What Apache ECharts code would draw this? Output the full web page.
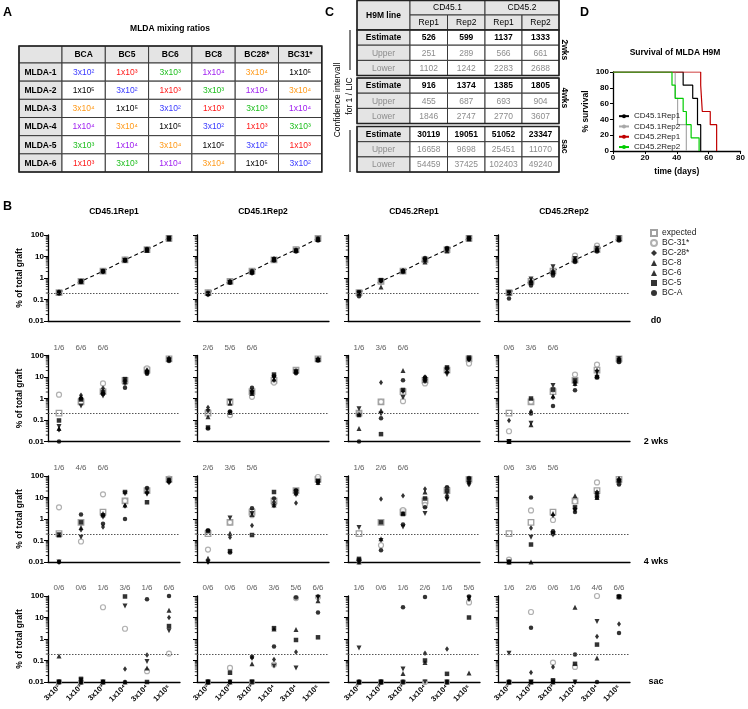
<!DOCTYPE html>
<html><head><meta charset="utf-8">
<script src="https://cdn.jsdelivr.net/npm/echarts@6/dist/echarts.min.js"></script>
<style>html,body{margin:0;padding:0;background:#fff}#c{width:748px;height:709px}</style>
</head><body><div id="c"></div>
<script>
const FONT = '"Liberation Sans", Arial, Helvetica, sans-serif';

// ---------- Panel A: mixing ratios ----------
const mixBarcodes = ['BCA','BC5','BC6','BC8','BC28*','BC31*'];
const mixMice = ['MLDA-1','MLDA-2','MLDA-3','MLDA-4','MLDA-5','MLDA-6'];
const doseLabels = ['3x10²','1x10³','3x10³','1x10⁴','3x10⁴','1x10⁵'];
const doseColors = ['#3a3aff','#ff1a1a','#1fbf1f','#a020f0','#ff9a1a','#000000'];
const mixDoseIndex = [
  [0,1,2,3,4,5],
  [5,0,1,2,3,4],
  [4,5,0,1,2,3],
  [3,4,5,0,1,2],
  [2,3,4,5,0,1],
  [1,2,3,4,5,0]];

// ---------- Panel C: LIC estimates ----------
const cLines = ['CD45.1','CD45.2'];
const cReps = ['Rep1','Rep2','Rep1','Rep2'];
const cGroups = ['2wks','4wks','sac'];
const cEstimate = [[526,599,1137,1333],[916,1374,1385,1805],[30119,19051,51052,23347]];
const cUpper = [[251,289,566,661],[455,687,693,904],[16658,9698,25451,11070]];
const cLower = [[1102,1242,2283,2688],[1846,2747,2770,3607],[54459,37425,102403,49240]];

// ---------- Panel D: survival ----------
const survNames = ['CD45.1Rep1','CD45.1Rep2','CD45.2Rep1','CD45.2Rep2'];
const survColors = ['#000000','#a8a8a8','#c00000','#00cc00'];
const surv451r1Days = [0,44,50,53,55];
const surv451r1Pct  = [100,83.3,66.7,33.3,0];
const surv451r2Days = [0,39,40.5,46];
const surv451r2Pct  = [100,66.7,33.3,0];
const surv452r1Days = [0,55,56,61,65];
const surv452r1Pct  = [100,83.3,50,33.3,0];
const surv452r2Days = [0,37,39,44,46,49,54];
const surv452r2Pct  = [100,83.3,66.7,50,33.3,16.7,0];

// ---------- Panel B: % of total graft ----------
const bColumns = ['CD45.1Rep1','CD45.1Rep2','CD45.2Rep1','CD45.2Rep2'];
const bRows = ['d0','2 wks','4 wks','sac'];
const detectionThreshold = 0.2;
const expectedPct = [0.208,0.693,2.08,6.93,20.8,69.3];
// each panel: rows = BC-A, BC-5, BC-6, BC-8, BC-28*, BC-31*; columns = doses
const d0_451r1 = [
  [0.19,0.70,2.0,6.5,20,68],
  [0.21,0.68,2.1,6.8,21,70],
  [0.23,0.72,2.2,7.0,19,66],
  [0.20,0.66,1.9,6.6,20,72],
  [0.22,0.71,2.05,6.9,22,69],
  [0.21,0.69,2.1,7.1,21,70]];
const d0_451r2 = [
  [0.17,0.60,1.7,6.5,17,55],
  [0.20,0.65,2.0,7.0,19,60],
  [0.19,0.68,1.9,7.5,20,62],
  [0.16,0.62,1.6,7.2,18,65],
  [0.20,0.70,2.1,7.8,20,68],
  [0.21,0.70,2.1,7.0,21,70]];
const d0_452r1 = [
  [0.14,0.75,2.2,8.5,25,70],
  [0.22,0.80,2.0,7.0,22,68],
  [0.20,0.38,2.3,5.5,18,66],
  [0.19,0.70,1.9,6.5,20,72],
  [0.21,0.72,2.1,7.2,21,70],
  [0.20,0.69,2.1,7.0,21,69]];
const d0_452r2 = [
  [0.11,0.45,1.3,5.5,17,55],
  [0.21,0.60,1.7,6.5,20,62],
  [0.20,0.75,2.0,7.5,22,68],
  [0.20,0.90,3.3,8.0,24,72],
  [0.21,0.70,2.2,7.0,20,70],
  [0.21,0.65,2.2,11,32,70]];
const wk2_451r1 = [
  [0.01,1.0,1.6,3.2,14,55],
  [0.095,0.9,2.0,8,17,65],
  [0.04,1.2,2.2,6,22,70],
  [0.05,0.45,1.3,5,15,60],
  [0.035,1.4,3.0,7,20,75],
  [1.5,0.65,5.0,5.5,25,68]];
const wk2_451r2 = [
  [0.04,0.25,3.2,11,15,60],
  [0.045,0.22,2.0,13,18,62],
  [0.14,0.6,1.7,8,20,65],
  [0.25,0.75,1.8,9,17,58],
  [0.38,0.23,2.2,7,16,70],
  [0.2,0.17,1.2,5.5,19,66]];
const wk2_452r1 = [
  [0.01,0.12,7,9.5,25,70],
  [0.17,0.022,2.5,8,28,80],
  [0.04,0.28,20,7,20,75],
  [0.33,0.19,1.1,6,13,62],
  [0.18,5.5,2.2,10,17,65],
  [0.2,0.7,0.75,5,22,42]];
const wk2_452r2 = [
  [0.01,0.2,0.45,2.4,9.5,50],
  [0.01,1.0,2.6,7,10,60],
  [0.01,0.06,1.3,5,12,75],
  [0.01,0.07,4,4.5,16,70],
  [0.095,0.25,1.1,6,20,65],
  [0.03,0.72,2.6,13,38,55]];
const wk4_451r1 = [
  [0.01,1.6,0.6,1.0,28,55],
  [0.19,0.7,1.5,18,6,60],
  [0.18,0.4,1.8,4.5,22,70],
  [0.01,0.14,1.2,15,14,65],
  [0.01,0.32,0.42,4,16,50],
  [3.5,0.09,14,7,20,75]];
const wk4_451r2 = [
  [0.3,0.028,3.2,9,22,55],
  [0.27,0.032,0.18,18,20,60],
  [0.015,0.22,1.6,4.5,16,50],
  [0.01,1.1,1.8,4,13,52],
  [0.01,0.14,0.5,6,5.5,48],
  [0.038,0.7,1.5,5,18,90]];
const wk4_452r1 = [
  [0.012,0.035,0.55,3.5,30,80],
  [0.014,0.7,1.7,9,20,70],
  [0.01,0.12,1.9,18,14,55],
  [0.4,0.1,0.42,1.8,8,45],
  [0.01,8.5,12,25,10,40],
  [0.012,0.06,2.6,4.5,25,65]];
const wk4_452r2 = [
  [0.01,10,0.27,2.1,10,40],
  [0.01,0.065,0.22,3.5,13,60],
  [0.01,0.01,1.8,12,10,70],
  [0.01,0.14,0.18,2.5,15,55],
  [0.01,0.38,1.5,3,18,75],
  [0.013,2.5,0.9,6.5,50,50]];
const sac_451r1 = [
  [0.01,0.01,0.01,0.01,70,100],
  [0.01,0.014,0.01,95,0.01,4],
  [0.16,0.01,0.01,0.01,0.045,22],
  [0.01,0.012,0.01,34,0.09,2.4],
  [0.01,0.01,0.01,0.04,0.18,10],
  [0.01,0.01,30,3,0.032,0.21]];
const sac_451r2 = [
  [0.01,0.01,0.15,0.45,85,17],
  [0.01,0.027,0.01,3.2,0.9,1.2],
  [0.01,0.01,0.07,2.9,2.8,60],
  [0.01,0.01,0.01,0.055,0.045,85],
  [0.01,0.01,0.13,0.11,0.25,95],
  [0.01,0.045,0.01,0.065,80,90]];
const sac_452r1 = [
  [0.01,0.01,30,90,0.01,95],
  [0.01,0.01,0.01,0.1,0.024,10],
  [0.01,0.01,0.025,0.08,0.01,0.026],
  [0.38,0.01,0.04,0.01,0.01,80],
  [0.01,0.01,0.01,0.22,0.34,70],
  [0.01,0.01,0.01,0.01,0.01,50]];
const sac_452r2 = [
  [0.01,3.3,0.01,0.19,0.01,1.9],
  [0.01,0.01,0.012,0.07,0.55,95],
  [0.01,0.01,0.01,30,0.13,100],
  [0.22,0.01,0.01,0.01,6.5,85],
  [0.01,0.028,0.05,0.01,1.3,5],
  [0.01,18,0.08,0.05,100,90]];
// engraftment fractions shown above the doses
const frac2wk = [['1/6','6/6','6/6'],['2/6','5/6','6/6'],['1/6','3/6','6/6'],['0/6','3/6','6/6']];
const frac4wk = [['1/6','4/6','6/6'],['2/6','3/6','5/6'],['1/6','2/6','6/6'],['0/6','3/6','5/6']];
const fracSac = [['0/6','0/6','1/6','3/6','1/6','6/6'],['0/6','0/6','0/6','3/6','5/6','6/6'],
                 ['1/6','0/6','1/6','2/6','1/6','5/6'],['1/6','2/6','0/6','1/6','4/6','6/6']];
const minorTickVals = [0.02,0.03,0.04,0.05,0.06,0.07,0.08,0.09,0.2,0.3,0.4,0.5,0.6,0.7,0.8,0.9,
                       2,3,4,5,6,7,8,9,20,30,40,50,60,70,80,90];

// ---------- styles ----------
const bcNames = ['BC-A','BC-5','BC-6','BC-8','BC-28*','BC-31*'];
const bcStyle = {
  'BC-A':   {symbol:'circle', size:4.5, rot:0, fill:'#000', border:'#000', bw:0},
  'BC-5':   {symbol:'rect', size:4.5, rot:0, fill:'#000', border:'#000', bw:0},
  'BC-6':   {symbol:'triangle', size:5, rot:0, fill:'#000', border:'#000', bw:0},
  'BC-8':   {symbol:'triangle', size:5, rot:180, fill:'#000', border:'#000', bw:0},
  'BC-28*': {symbol:'diamond', size:[4,5.5], rot:0, fill:'#000', border:'#000', bw:0},
  'BC-31*': {symbol:'circle', size:5, rot:0, fill:'#ffffff', border:'#9c9c9c', bw:1.2}
};
const drawOrder = ['BC-31*','BC-28*','BC-8','BC-6','BC-5','BC-A'];

const panels = [
  [d0_451r1,d0_451r2,d0_452r1,d0_452r2],
  [wk2_451r1,wk2_451r2,wk2_452r1,wk2_452r2],
  [wk4_451r1,wk4_451r2,wk4_452r1,wk4_452r2],
  [sac_451r1,sac_451r2,sac_452r1,sac_452r2]];
const fracs = [null, frac2wk, frac4wk, fracSac];

const colLeft = [48,197,348,498], rowTop = [235,355.5,476,596], gW = 132, gH = 86;
const grids = [], xAxes = [], yAxes = [], series = [];

function yFmt(v){ return v >= 1 ? String(Math.round(v)) : String(+Number(v).toPrecision(1)); }

for (let r = 0; r < 4; r++) {
  for (let c = 0; c < 4; c++) {
    const idx = grids.length;
    grids.push({left: colLeft[c], top: rowTop[r], width: gW, height: gH});
    xAxes.push({gridIndex: idx, type:'category', data: doseLabels, boundaryGap: true,
      axisLine:{lineStyle:{color:'#000', width:1.3}},
      axisTick:{alignWithLabel:true, length:3, lineStyle:{color:'#000', width:1}},
      axisLabel:{show: r === 3, interval:0, rotate:45, fontSize:7.5, fontWeight:'bold', color:'#000', margin:4, fontFamily:FONT},
      splitLine:{show:false}});
    yAxes.push({gridIndex: idx, type:'log', logBase:10, min:0.01, max:100,
      axisLine:{show:true, lineStyle:{color:'#000', width:1.3}},
      axisTick:{show:true, length:4, lineStyle:{color:'#000', width:1}},
      axisLabel:{show: c === 0, fontSize:8, fontWeight:'bold', color:'#000', margin:4, formatter:yFmt, fontFamily:FONT},
      splitLine:{show:false},
      name: c === 0 ? '% of total graft' : '', nameLocation:'middle', nameGap:24, nameRotate:90,
      nameTextStyle:{fontSize:8.5, fontWeight:'bold', color:'#000', fontFamily:FONT}});
    // log minor ticks
    series.push({type:'custom', xAxisIndex:idx, yAxisIndex:idx, silent:true, z:1,
      data: minorTickVals.map(v => [0, v]),
      renderItem: function(params, api){
        const p = api.coord([0, api.value(1)]);
        const x0 = params.coordSys.x;
        return {type:'line', shape:{x1:x0, y1:p[1], x2:x0-2.2, y2:p[1]}, style:{stroke:'#000', lineWidth:0.8}};
      }});
    if (r === 0) {
      series.push({type:'line', name:'expectedLine', xAxisIndex:idx, yAxisIndex:idx, data: expectedPct,
        symbol:'none', silent:true, z:2, lineStyle:{type:[4,3], color:'#000', width:1.1}});
    }
    if (r < 3) {
      series.push({type:'scatter', name:'expected', xAxisIndex:idx, yAxisIndex:idx, data: expectedPct,
        symbol:'rect', symbolSize:5.5, clip:false, z:3,
        itemStyle:{color:'#ffffff', borderColor:'#8a8a8a', borderWidth:1.3}});
    }
    const pdata = panels[r][c];
    drawOrder.forEach(function(nm){
      const st = bcStyle[nm];
      const s = {type:'scatter', name:nm, xAxisIndex:idx, yAxisIndex:idx,
        data: pdata[bcNames.indexOf(nm)], symbol: st.symbol, symbolSize: st.size, symbolRotate: st.rot,
        clip:false, z:4,
        itemStyle:{color: st.fill, borderColor: st.border, borderWidth: st.bw}};
      if (nm === 'BC-A') {
        s.markLine = {silent:true, symbol:'none', animation:false,
          label:{show:false}, lineStyle:{type:[1.5,1.5], color:'#555', width:1},
          data:[{yAxis: detectionThreshold}]};
      }
      series.push(s);
    });
    if (fracs[r]) {
      const f = fracs[r][c];
      series.push({type:'scatter', name:'frac', xAxisIndex:idx, yAxisIndex:idx, symbolSize:0, silent:true, clip:false,
        data: f.map((t, i) => ({value:[i, 100], name:t})),
        label:{show:true, position:'top', distance:4, formatter:'{b}', fontSize:8, color:'#333', fontFamily:FONT}});
    }
  }
}

// survival chart
const dIdx = grids.length;
grids.push({left:613, top:72, width:130, height:79});
xAxes.push({gridIndex:dIdx, type:'value', min:0, max:80, interval:20,
  axisLine:{lineStyle:{color:'#000', width:1.3}}, axisTick:{length:3, lineStyle:{color:'#000'}},
  axisLabel:{fontSize:8, fontWeight:'bold', color:'#000', margin:3, fontFamily:FONT}, splitLine:{show:false},
  name:'time (days)', nameLocation:'middle', nameGap:16,
  nameTextStyle:{fontSize:8.5, fontWeight:'bold', color:'#000', fontFamily:FONT}});
yAxes.push({gridIndex:dIdx, type:'value', min:0, max:100, interval:20,
  axisLine:{show:true, lineStyle:{color:'#000', width:1.3}}, axisTick:{show:true, length:3, lineStyle:{color:'#000'}},
  axisLabel:{fontSize:8, fontWeight:'bold', color:'#000', margin:4, fontFamily:FONT}, splitLine:{show:false},
  name:'% survival', nameLocation:'middle', nameGap:23, nameRotate:90,
  nameTextStyle:{fontSize:8.5, fontWeight:'bold', color:'#000', fontFamily:FONT}});
const survDays = [surv451r1Days, surv451r2Days, surv452r1Days, surv452r2Days];
const survPct = [surv451r1Pct, surv451r2Pct, surv452r1Pct, surv452r2Pct];
survNames.forEach(function(nm, i){
  series.push({type:'line', name:nm, xAxisIndex:dIdx, yAxisIndex:dIdx, step:'end', symbol:'none',
    data: survDays[i].map((d, k) => [d, survPct[i][k]]),
    lineStyle:{color: survColors[i], width:1.2}, itemStyle:{color: survColors[i]}, z:3});
});

// ---------- graphics: tables and labels ----------
const G = [];
function txt(x, y, s, o){ o = o || {};
  return {type:'text', x:x, y:y, rotation:o.rot||0, silent:true, z:100,
    style:{text:s, x:0, y:0, fill:o.color||'#000', font:(o.bold?'bold ':'')+(o.size||8.5)+'px '+FONT,
      textAlign:o.align||'center', textVerticalAlign:'middle', align:o.align||'center', verticalAlign:'middle'}}; }
function rect(x, y, w, h, fill, stroke, lw){
  return {type:'rect', silent:true, z:90, shape:{x:x, y:y, width:w, height:h},
    style:{fill:fill||'none', stroke:stroke||'none', lineWidth:lw||1}}; }
function seg(x1, y1, x2, y2, lw){
  return {type:'line', silent:true, z:95, shape:{x1:x1, y1:y1, x2:x2, y2:y2}, style:{stroke:'#000', lineWidth:lw||1}}; }

const HDR = '#e4e4e4', LINE = '#3a3a3a';
// panel letters & titles
G.push(txt(3, 13, 'A', {bold:true, size:12.5, align:'left'}));
G.push(txt(3, 207, 'B', {bold:true, size:12.5, align:'left'}));
G.push(txt(325, 13, 'C', {bold:true, size:12.5, align:'left'}));
G.push(txt(580, 13, 'D', {bold:true, size:12.5, align:'left'}));
G.push(txt(170, 29, 'MLDA mixing ratios', {bold:true, size:8.5}));
G.push(txt(675, 53, 'Survival of MLDA H9M', {bold:true, size:8.5}));

// table A
const aX = [19,62]; for (let i = 1; i <= 6; i++) aX.push(62 + 43.3*i);
const aY = [46,63]; for (let i = 1; i <= 6; i++) aY.push(63 + 18.17*i);
for (let r = 0; r < 7; r++) {
  for (let c = 0; c < 7; c++) {
    const x = aX[c], y = aY[r], w = aX[c+1]-aX[c], h = aY[r+1]-aY[r];
    const gray = (r === 0 || c === 0);
    G.push(rect(x, y, w, h, gray ? HDR : '#fff', LINE, 1));
    const cx = x + w/2, cy = y + h/2 + 0.5;
    if (r === 0 && c > 0) G.push(txt(cx, cy, mixBarcodes[c-1], {bold:true}));
    else if (c === 0 && r > 0) G.push(txt(cx, cy, mixMice[r-1], {bold:true}));
    else if (r > 0 && c > 0) { const d = mixDoseIndex[r-1][c-1];
      G.push(txt(cx, cy, doseLabels[d], {color: doseColors[d]})); }
  }
}
G.push(rect(aX[0], aY[0], aX[7]-aX[0], aY[7]-aY[0], 'none', '#222', 1.6));

// table C
const cX = [357,410,447.5,485,522,559];
G.push(rect(cX[0], 0.5, cX[1]-cX[0], 29.5, HDR, LINE, 1));
G.push(txt((cX[0]+cX[1])/2, 15.5, 'H9M line', {bold:true}));
for (let k = 0; k < 2; k++) {
  G.push(rect(cX[1+2*k], 0.5, cX[3+2*k]-cX[1+2*k], 14.5, HDR, LINE, 1));
  G.push(txt((cX[1+2*k]+cX[3+2*k])/2, 8, cLines[k]));
}
for (let j = 0; j < 4; j++) {
  G.push(rect(cX[j+1], 15, cX[j+2]-cX[j+1], 15, HDR, LINE, 1));
  G.push(txt((cX[j+1]+cX[j+2])/2, 23, cReps[j]));
}
G.push(rect(cX[0], 0.5, cX[5]-cX[0], 29.5, 'none', '#222', 1.5));
const gTop = [30,78,126.5], cRH = 15.2;
const rowNames = ['Estimate','Upper','Lower'];
for (let g = 0; g < 3; g++) {
  const rowsVals = [cEstimate[g], cUpper[g], cLower[g]];
  for (let rr = 0; rr < 3; rr++) {
    const y = gTop[g] + rr*cRH;
    const est = rr === 0, col = est ? '#000' : '#8c8c8c';
    G.push(rect(cX[0], y, cX[1]-cX[0], cRH, HDR, LINE, 1));
    G.push(txt((cX[0]+cX[1])/2, y+cRH/2+0.5, rowNames[rr], {bold:est, color:col}));
    for (let j = 0; j < 4; j++) {
      G.push(rect(cX[j+1], y, cX[j+2]-cX[j+1], cRH, '#fff', LINE, 1));
      G.push(txt((cX[j+1]+cX[j+2])/2, y+cRH/2+0.5, String(rowsVals[rr][j]), {bold:est, color:col}));
    }
  }
  G.push(rect(cX[0], gTop[g], cX[5]-cX[0], 3*cRH, 'none', '#222', 1.5));
  G.push(txt(564, gTop[g] + 1.5*cRH - 3, cGroups[g], {bold:true, rot:-Math.PI/2}));
}
G.push(txt(338, 100, 'Confidence intervall', {rot:Math.PI/2, size:8.5}));
G.push(txt(350, 96, 'for 1 / LIC', {rot:Math.PI/2, size:8.5}));
G.push(seg(350, 30, 350, 70, 1));
G.push(seg(350, 130, 350, 172, 1));

// panel B column titles and row labels
bColumns.forEach((t, c) => G.push(txt(colLeft[c] + gW/2, 212, t, {bold:true})));
bRows.forEach((t, r) => G.push(txt(656, rowTop[r] + gH, t, {bold:true, size:9})));

const option = {
  animation:false,
  backgroundColor:'#ffffff',
  textStyle:{fontFamily:FONT},
  grid: grids, xAxis: xAxes, yAxis: yAxes, series: series,
  legend:[
    {data:['expected','BC-31*','BC-28*','BC-8','BC-6','BC-5','BC-A'], orient:'vertical', left:650, top:228,
     itemWidth:6, itemHeight:6, itemGap:0, selectedMode:false, padding:0,
     textStyle:{fontSize:8.5, lineHeight:10, color:'#222', fontFamily:FONT}},
    {data: survNames, orient:'vertical', left:618, top:111, itemWidth:10, itemHeight:5, itemGap:0,
     selectedMode:false, padding:0, textStyle:{fontSize:8, lineHeight:10.3, color:'#222', fontFamily:FONT}}
  ],
  graphic: G
};
const chart = echarts.init(document.getElementById('c'), null, {renderer:'canvas', width:748, height:709});
chart.setOption(option);
</script>
</body></html>
